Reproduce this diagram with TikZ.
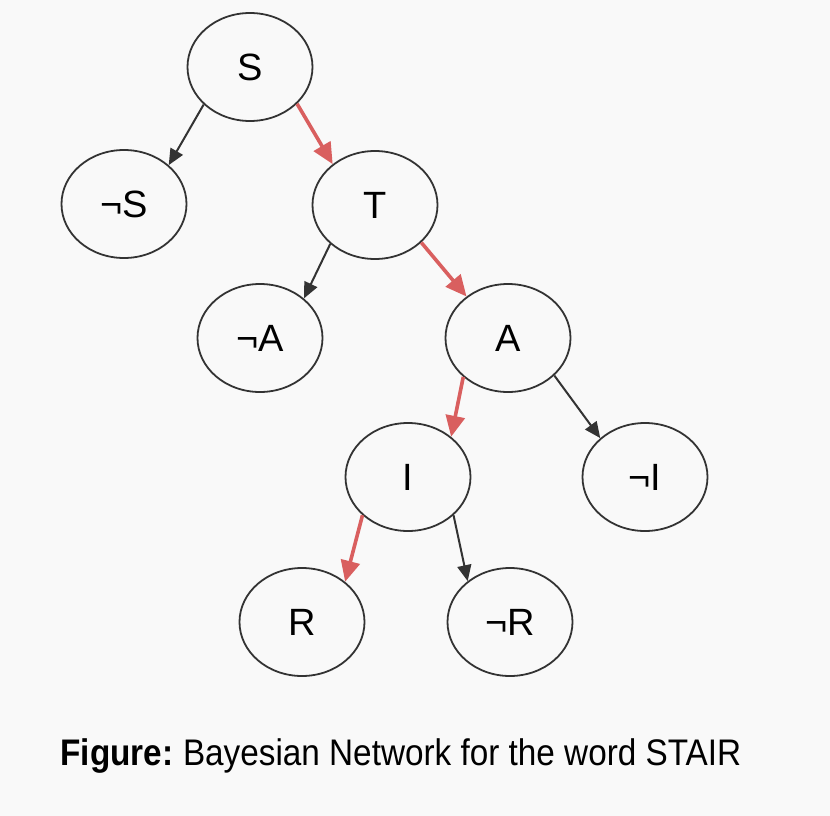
\documentclass[tikz,border=0pt]{standalone}
\usepackage{fontspec}
\setmainfont{Liberation Sans}
\usetikzlibrary{arrows.meta,shapes.geometric}
\definecolor{ink}{HTML}{333333}
\definecolor{pathcol}{HTML}{D95F5F}
\definecolor{paper}{HTML}{F9F9F9}

\begin{document}
\begin{tikzpicture}[x=1pt, y=-1pt,
  state/.style={ellipse, draw=ink, line width=1.8pt, minimum width=125pt,
    minimum height=108pt, inner sep=0pt, font=\fontsize{38}{42}\selectfont},
  edge/.style={ink, line width=2pt, -{Triangle[length=16pt,width=14pt]}},
  hot/.style={pathcol, line width=3.6pt, -{Triangle[length=21pt,width=19pt]}},
  figcap/.style={anchor=base west, font=\fontsize{37}{40}\selectfont}]

\fill[paper] (0,0) rectangle (830,816);
\useasboundingbox (0,0) rectangle (830,816);

% ================================================================ nodes
\node[state] (S)  at (250,67)  {S};
\node[state] (nS) at (124,204) {¬S};
\node[state] (T)  at (375,205) {T};
\node[state] (nA) at (260,338) {¬A};
\node[state] (A)  at (508,338) {A};
\node[state] (I)  at (408,477) {I};
\node[state] (nI) at (645,477) {¬I};
\node[state] (R)  at (302,622) {R};
\node[state] (nR) at (510,622) {¬R};

% ================================================================ edges
\draw[edge] (S.219) -- (nS.41);
\draw[hot]  (S.322) -- (T.136);
\draw[edge] (T.221) -- (nA.42);
\draw[hot]  (T.321) -- (A.135);
\draw[hot]  (A.221) -- (I.43);
\draw[edge] (A.321) -- (nI.139);
\draw[hot]  (I.220) -- (R.43);
\draw[edge] (I.320) -- (nR.136);

% caption, squeezed to the width of the original face
\node[figcap] (cap) at (57,765)
  {\scalebox{0.9}[1]{\textbf{Figure:}\hspace{-3pt} Bayesian Network for the word STAIR}};

\end{tikzpicture}
\end{document}
